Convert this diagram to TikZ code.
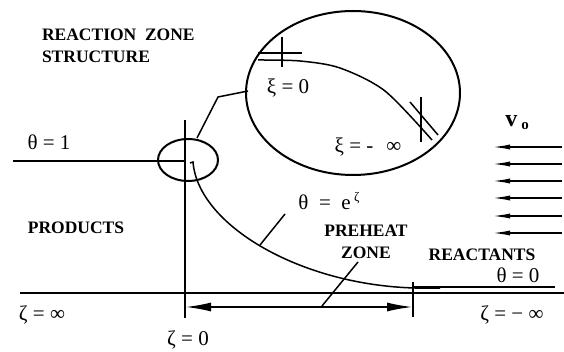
\documentclass[tikz,border=0pt]{standalone}
\usepackage{fontspec}
\setmainfont{Liberation Serif}
\usetikzlibrary{arrows.meta}

\begin{document}
\begin{tikzpicture}[x=1pt, y=-1pt, line width=2pt,
  >={Latex[length=26pt,width=9pt]},
  lbl/.style={font=\fontsize{21}{24}\selectfont, inner sep=0pt},
  tag/.style={font=\fontsize{17.5}{22}\selectfont\bfseries, inner sep=0pt, align=center},
  thin/.style={line width=1.5pt},
  flow/.style={-{Latex[length=20pt,width=5pt]}}]
  \useasboundingbox (0,0) rectangle (564,352);
  % axis and flame front
  \coordinate (axL) at (20,293);
  \coordinate (axR) at (564,293);
  \coordinate (frT) at (185,120);
  \coordinate (frB) at (185,318);
  \draw (axL) -- (axR);
  \draw (frT) -- (frB);
  % theta = 1 and theta = 0 levels
  \draw (13,161) -- (185,161);
  \draw (413,287) -- (555,287);
  % temperature profile
  \draw[thin] (190,163) -- (193,162)
    .. controls (198,225) and (300,285) .. (415,288) -- (440,288);
  % preheat zone extent
  \draw (413,282) -- (413,317);
  \draw[<->] (185,307) -- (413,307);
  % reaction zone magnified
  \draw (188,160) ellipse [x radius=30, y radius=21];
  \draw (353,93) ellipse [x radius=107, y radius=82];
  \draw[thin] (197,138) -- (218,97) -- (248,91);
  \draw[thin] plot[smooth] coordinates
    {(258,60) (300,61) (340,68) (385,91) (432,140)};
  \draw (258,53) -- (302,53);
  \draw (282,37) -- (282,67);
  \draw[thin] (410,102) -- (438,135);
  \draw (421,97) -- (421,142);
  % leaders
  \draw[thin] (260,245) -- (285,214);
  \draw[thin] (322,306) -- (358,262);
  % incoming flow
  \foreach \y in {147,164,181,198,216,233}
    \draw[flow] (562,\y) -- (490,\y);
  % labels
  \node[tag, align=left, anchor=west] (rzs) at (41,46) {REACTION\ \ ZONE\\STRUCTURE};
  \node[lbl] (th1) at (49,142) {θ = 1};
  \node[lbl] (xi0) at (288,88) {ξ = 0};
  \node[lbl] (ximi) at (368,147) {ξ = -\hspace{13pt}∞};
  \node[inner sep=0pt] (vo) at (517,123)
    {\fontsize{24}{26}\selectfont\bfseries v\,\raisebox{-3pt}{\fontsize{15}{17}\selectfont o}};
  \node[tag] (prod) at (76,228) {PRODUCTS};
  \node[lbl] (thexp) at (329,201)
    {θ\ \ =\ \ e\,\raisebox{8pt}{\fontsize{13}{15}\selectfont ζ}};
  \node[tag] (phz) at (366,242) {PREHEAT\\ZONE};
  \node[tag] (reac) at (482,255) {REACTANTS};
  \node[lbl] (th0) at (518,275) {θ = 0};
  \node[lbl] (zinf) at (42,315) {ζ = ∞};
  \node[lbl] (z0) at (188,340) {ζ = 0};
  \node[lbl] (zminf) at (512,315) {ζ = − ∞};
\end{tikzpicture}
\end{document}
